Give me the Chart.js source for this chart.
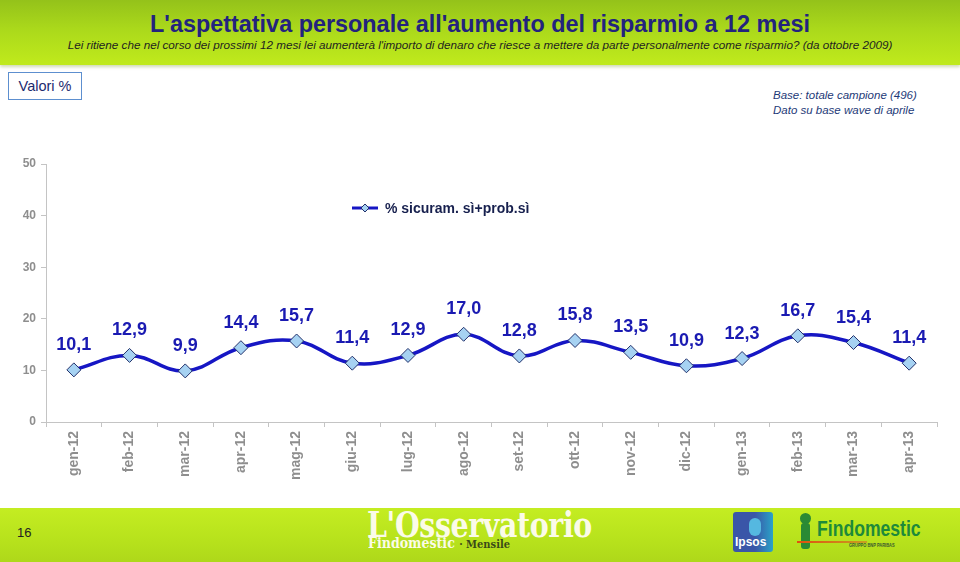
<!DOCTYPE html>
<html>
<head>
<meta charset="utf-8">
<script src="https://cdn.jsdelivr.net/npm/chart.js@4.4.0/dist/chart.umd.min.js"></script>
<style>
  html, body { margin:0; padding:0; width:960px; height:562px; overflow:hidden; background:#fff; font-family:"Liberation Sans", Arial, sans-serif; }
  #header { position:absolute; left:0; top:0; width:960px; height:65px;
    background:linear-gradient(to bottom, #94c21a 0%, #abd91b 45%, #c0ea1c 100%);
    box-shadow:0 2px 3px rgba(120,150,40,0.35); }
  #title { position:absolute; left:0; top:10px; width:960px; text-align:center; color:#23237e;
    font-family:"Liberation Sans", Arial, sans-serif; font-weight:bold; font-size:23.4px; line-height:28px; }
  #subtitle { position:absolute; left:0; top:37px; width:960px; text-align:center; color:#1e2420;
    font-family:"Liberation Sans", Arial, sans-serif; font-style:italic; font-size:11.7px; line-height:16px; }
  #valori { position:absolute; left:8px; top:72px; width:72px; height:26px; border:1px solid #5d8fcf;
    color:#1d2a6e; font-size:14.5px; line-height:26px; text-align:center; }
  #base { position:absolute; left:773px; top:88px; color:#1e3a78; font-style:italic; font-size:11.5px; line-height:15px; }
  #chartbox { position:absolute; left:0; top:140px; width:960px; height:345px; }
  #footer { position:absolute; left:0; top:508px; width:960px; height:54px;
    background:linear-gradient(to bottom, #c4ed22 0%, #b7e21c 60%, #aed81a 100%); }
  #page { position:absolute; left:17px; top:17px; font-size:13px; color:#222; }
  #oss1 { position:absolute; left:367px; top:-4px; color:#fbfbe8; font-family:"DejaVu Serif", "Liberation Serif", serif; font-weight:bold; font-size:36px; letter-spacing:-0.5px; line-height:40px; transform:scaleX(0.79); transform-origin:left; }
  #oss2 { position:absolute; left:368px; top:27px; color:#fbfbe8; font-family:"DejaVu Serif", "Liberation Serif", serif; font-weight:bold; font-size:14px; line-height:16px; transform:scaleX(0.9); transform-origin:left; }
  #oss2 span { color:#3b4a18; font-size:11px; }
  #ipsos { position:absolute; left:733px; top:4px; width:40px; height:40px; background:linear-gradient(to right,#3a56a8 0%, #3a56a8 55%, #2aa3c8 100%); border-radius:3px; }
  #ipsos span { position:absolute; left:2px; bottom:3px; color:#fff; font-weight:bold; font-size:12px; }
  #ipsos i { position:absolute; left:16px; top:6px; width:12px; height:18px; border-radius:6px; background:#55b8e0; }
  #findo { position:absolute; left:817px; top:8px; color:#1d8a3a; font-weight:bold; font-size:22px; transform:scaleX(0.8); transform-origin:left; }
  #findo small { position:absolute; left:40px; top:26px; font-size:5px; color:#3a5a30; white-space:nowrap; }
  #figure { position:absolute; left:798px; top:5px; width:14px; height:38px; }
  #figure .h { position:absolute; left:2px; top:0; width:11px; height:11px; border-radius:6px; background:#2a8a34; }
  #figure .b { position:absolute; left:3px; top:10px; width:9px; height:26px; border-radius:3px; background:#2a8a34; }
  #redline { position:absolute; left:797px; top:33px; width:70px; height:2px; background:linear-gradient(to right,#e05010,#c8a020); }
</style>
</head>
<body>
<div id="header">
  <div id="title">L'aspettativa personale all'aumento del risparmio a 12 mesi</div>
  <div id="subtitle">Lei ritiene che nel corso dei prossimi 12 mesi lei aumenterà l'importo di denaro che riesce a mettere da parte personalmente come risparmio? (da ottobre 2009)</div>
</div>
<div id="valori">Valori %</div>
<div id="base">Base: totale campione (496)<br>Dato su base wave di aprile</div>
<div id="chartbox"><canvas id="c" width="960" height="345"></canvas></div>
<div id="footer">
  <div id="page">16</div>
  <div id="oss1">L'Osservatorio</div>
  <div id="oss2">Findomestic <span>· Mensile</span></div>
  <div id="ipsos"><i></i><span>Ipsos</span></div>
  <div id="figure"><div class="h"></div><div class="b"></div></div>
  <div id="redline"></div>
  <div id="findo">Findomestic<small>GRUPPO BNP PARIBAS</small></div>
</div>
<script>
const categories = ["gen-12","feb-12","mar-12","apr-12","mag-12","giu-12","lug-12","ago-12","set-12","ott-12","nov-12","dic-12","gen-13","feb-13","mar-13","apr-13"];
const seriesLabel = "% sicuram. sì+prob.sì";
const seriesValues = [10.1, 12.9, 9.9, 14.4, 15.7, 11.4, 12.9, 17.0, 12.8, 15.8, 13.5, 10.9, 12.3, 16.7, 15.4, 11.4];
const yTicks = [0, 10, 20, 30, 40, 50];

const LINE = '#1616c4';
const LABEL = '#1a1ab2';
const MARK_FILL = '#a6d2f2';
const MARK_BORDER = '#22306a';
const AXIS = '#c4c4c4';
const TICKTXT = '#8e8e8e';

const dataLabels = {
  id: 'dataLabels',
  afterDatasetsDraw(chart) {
    const ctx = chart.ctx;
    const meta = chart.getDatasetMeta(0);
    ctx.save();
    ctx.font = 'bold 18px "Liberation Sans", Arial, sans-serif';
    ctx.fillStyle = LABEL;
    ctx.textAlign = 'center';
    ctx.textBaseline = 'middle';
    meta.data.forEach((pt, i) => {
      const v = chart.data.datasets[0].data[i];
      ctx.fillText(v.toFixed(1).replace('.', ','), pt.x, pt.y - 25);
    });
    ctx.restore();
  }
};

const insideLegend = {
  id: 'insideLegend',
  afterDraw(chart) {
    const ctx = chart.ctx;
    const ds = chart.data.datasets[0];
    const y = 68, x0 = 352, x1 = 378, xm = 365;
    ctx.save();
    ctx.strokeStyle = ds.borderColor;
    ctx.lineWidth = 3;
    ctx.beginPath(); ctx.moveTo(x0, y); ctx.lineTo(x1, y); ctx.stroke();
    ctx.fillStyle = ds.pointBackgroundColor;
    ctx.strokeStyle = ds.pointBorderColor;
    ctx.lineWidth = 1;
    ctx.beginPath();
    ctx.moveTo(xm, y - 4); ctx.lineTo(xm + 4, y); ctx.lineTo(xm, y + 4); ctx.lineTo(xm - 4, y); ctx.closePath();
    ctx.fill(); ctx.stroke();
    ctx.font = 'bold 14px "Liberation Sans", Arial, sans-serif';
    ctx.fillStyle = '#17204e';
    ctx.textAlign = 'left';
    ctx.textBaseline = 'middle';
    ctx.fillText(ds.label, 385, y + 1);
    ctx.restore();
  }
};

new Chart(document.getElementById('c'), {
  type: 'line',
  data: {
    labels: categories,
    datasets: [{
      label: seriesLabel,
      data: seriesValues,
      borderColor: LINE,
      borderWidth: 3.5,
      tension: 0.4,
      fill: false,
      pointStyle: 'rectRot',
      pointRadius: 7,
      pointHoverRadius: 7,
      pointBackgroundColor: MARK_FILL,
      pointBorderColor: MARK_BORDER,
      pointBorderWidth: 1
    }]
  },
  options: {
    responsive: false,
    animation: false,
    events: [],
    layout: { padding: { top: 24, right: 23, left: 0, bottom: 0 } },
    plugins: { legend: { display: false }, tooltip: { enabled: false } },
    scales: {
      x: {
        offset: true,
        grid: { display: true, drawOnChartArea: false, drawTicks: true, tickLength: 5, tickColor: AXIS, offset: true },
        border: { display: true, color: AXIS, width: 1 },
        ticks: {
          minRotation: 90, maxRotation: 90, padding: 4, autoSkip: false,
          color: TICKTXT, font: { family: '"Liberation Sans", Arial, sans-serif', size: 14, weight: 'bold' }
        },
        afterFit(s) { s.height = 63; }
      },
      y: {
        min: 0, max: 50,
        afterBuildTicks(s) { s.ticks = yTicks.map(v => ({ value: v })); },
        grid: { display: true, drawOnChartArea: false, drawTicks: true, tickLength: 5, tickColor: AXIS },
        border: { display: true, color: AXIS, width: 1 },
        ticks: {
          padding: 5, color: TICKTXT,
          font: { family: '"Liberation Sans", Arial, sans-serif', size: 12, weight: 'bold' }
        },
        afterFit(s) { s.width = 46; }
      }
    }
  },
  plugins: [dataLabels, insideLegend]
});
</script>
</body>
</html>
